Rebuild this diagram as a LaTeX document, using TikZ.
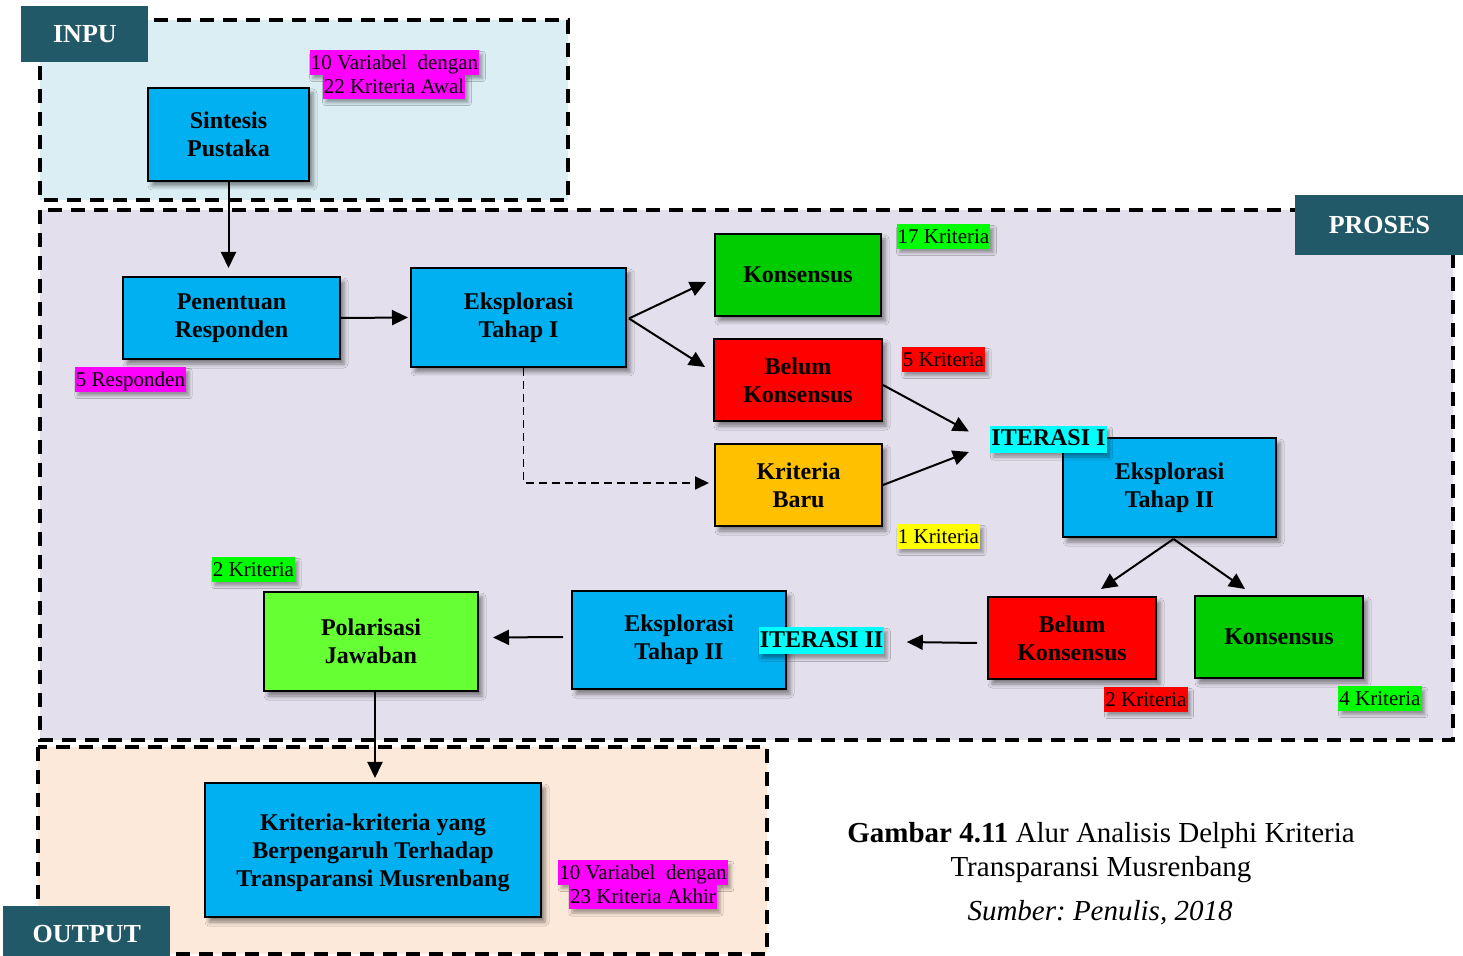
\documentclass[tikz,border=0pt]{standalone}
\usepackage{fontspec}
\setmainfont{Liberation Serif}
\usetikzlibrary{arrows.meta,calc,shadows.blur}
\frenchspacing

\definecolor{tabteal}{RGB}{33,89,104}
\definecolor{inputfill}{RGB}{218,238,243}
\definecolor{procfill}{RGB}{228,223,236}
\definecolor{outfill}{RGB}{253,233,217}
\definecolor{boxblue}{RGB}{0,176,240}
\definecolor{boxgreen}{RGB}{0,204,0}
\definecolor{boxred}{RGB}{255,0,0}
\definecolor{boxorange}{RGB}{255,192,0}
\definecolor{boxlime}{RGB}{102,255,51}
\definecolor{hlmagenta}{RGB}{255,0,255}
\definecolor{hlgreen}{RGB}{0,255,0}
\definecolor{hlred}{RGB}{255,0,0}
\definecolor{hlyellow}{RGB}{255,255,0}
\definecolor{hlcyan}{RGB}{0,255,255}

\begin{document}
\begin{tikzpicture}[x=0.5pt,y=-0.5pt,
  region/.style={line width=2pt, dash pattern=on 7pt off 4.5pt},
  tab/.style={fill=tabteal, text=white, anchor=north west, inner sep=0,
    font=\fontsize{13}{15}\selectfont\bfseries},
  stepbox/.style={draw=black, line width=1pt, anchor=north west, inner sep=0,
    align=center, font=\fontsize{12}{14}\selectfont\bfseries,
    blur shadow={shadow xshift=2pt, shadow yshift=-2.5pt, shadow opacity=45, shadow blur radius=2pt}},
  tag/.style={inner xsep=0.6pt, inner ysep=0, text height=9.4pt, text depth=2.8pt,
    font=\fontsize{10.5}{12}\selectfont,
    blur shadow={shadow xshift=1.5pt, shadow yshift=-2pt, shadow opacity=35, shadow blur radius=1.5pt}},
  itertag/.style={fill=hlcyan, inner xsep=0.6pt, inner ysep=0, text height=10pt, text depth=3.5pt,
    font=\fontsize{12}{14}\selectfont\bfseries,
    blur shadow={shadow xshift=1.5pt, shadow yshift=-2pt, shadow opacity=35, shadow blur radius=1.5pt}},
  arr/.style={line width=1pt, -{Triangle[length=8pt,width=7.5pt]}},
  dasharr/.style={line width=0.9pt, dash pattern=on 4pt off 2.5pt, -{Triangle[length=7pt,width=6.5pt]}}
]
\useasboundingbox (0,0) rectangle (1463,956);

% background areas
\fill[inputfill] (40,20) rectangle (568,200);
\fill[procfill] (40,210) rectangle (1453,740);
\fill[outfill] (38,747) rectangle (767,954);
\draw[region] (40,20) rectangle (568,200);
\draw[region] (40,210) rectangle (1453,740);
\draw[region] (38,747) rectangle (767,954);

% section tabs
\node[tab, minimum width=63.5pt, minimum height=28pt] (tin) at (21,6) {INPU};
\node[tab, minimum width=84pt, minimum height=30pt] (tpr) at (1295,195) {PROSES};
\node[tab, minimum width=83.5pt, minimum height=28pt] (tout) at (3,906) {OUTPUT};

% process boxes
\node[stepbox, fill=boxblue, minimum width=80.5pt, minimum height=46.5pt] (sp) at (147,87) {Sintesis\\Pustaka};
\node[stepbox, fill=boxblue, minimum width=108.5pt, minimum height=41pt] (pr) at (122,276) {Penentuan\\Responden};
\node[stepbox, fill=boxblue, minimum width=107.5pt, minimum height=49.5pt] (e1) at (410,267) {Eksplorasi\\Tahap I};
\node[stepbox, fill=boxgreen, minimum width=83pt, minimum height=41pt] (k1) at (714,233) {Konsensus};
\node[stepbox, fill=boxred, minimum width=84pt, minimum height=41pt] (b1) at (713,338) {Belum\\Konsensus};
\node[stepbox, fill=boxorange, minimum width=83.5pt, minimum height=41pt] (kb) at (714,443) {Kriteria\\Baru};
\node[stepbox, fill=boxblue, minimum width=106.5pt, minimum height=49.5pt] (e2) at (1062,437) {Eksplorasi\\Tahap II};
\node[stepbox, fill=boxred, minimum width=84pt, minimum height=41pt] (b2) at (987,596) {Belum\\Konsensus};
\node[stepbox, fill=boxgreen, minimum width=84pt, minimum height=41pt] (k2) at (1194,595) {Konsensus};
\node[stepbox, fill=boxblue, minimum width=107pt, minimum height=49pt] (e3) at (571,590) {Eksplorasi\\Tahap II};
\node[stepbox, fill=boxlime, minimum width=107pt, minimum height=49.5pt] (pj) at (263,591) {Polarisasi\\Jawaban};
\node[stepbox, fill=boxblue, minimum width=168pt, minimum height=67pt] (kk) at (204,782) {\rule{0pt}{11pt}Kriteria-kriteria yang\\Berpengaruh Terhadap\\Transparansi Musrenbang};

% highlighted notes
\node[tag, fill=hlmagenta] (va1) at (394.5,62.5) {10 Variabel\ \ dengan};
\node[tag, fill=hlmagenta] (va2) at (394,86.5) {22 Kriteria Awal};
\node[tag, fill=hlmagenta] (nr) at (130.5,379.5) {5 Responden};
\node[tag, fill=hlgreen] (n17) at (943.5,236.5) {17 Kriteria};
\node[tag, fill=hlred] (n5) at (943.5,359.5) {5 Kriteria};
\node[tag, fill=hlyellow] (n1) at (938.5,536.5) {1 Kriteria};
\node[tag, fill=hlred] (n2r) at (1146,699.5) {2 Kriteria};
\node[tag, fill=hlgreen] (n4) at (1380,698.5) {4 Kriteria};
\node[tag, fill=hlgreen] (n2g) at (253.5,569.5) {2 Kriteria};
\node[tag, fill=hlmagenta] (vb1) at (643,872.5) {10 Variabel\ \ dengan};
\node[tag, fill=hlmagenta] (vb2) at (643,897) {23 Kriteria Akhir};
\node[itertag] (it1) at (1048.5,439.5) {ITERASI I};
\node[itertag] (it2) at (821.5,641) {ITERASI II};

% connectors
\draw[arr, shorten >=4pt] (sp.south) -- (sp.south |- pr.north);
\draw[arr, shorten >=1pt] (pr.east) -- (e1.west);
\draw[arr] ($(e1.east)+(2,1)$) -- ($(k1.west)+(-8,7)$);
\draw[arr] ($(e1.east)+(2,1)$) -- ($(b1.west)+(-8,-13)$);
\draw[dasharr] ($(e1.south)+(5,0)$) |- ($(kb.west)+(-5,-2)$);
\draw[arr] ($(b1.east)+(0,5)$) -- ($(it1.west)+(-21,-8)$);
\draw[arr] (kb.east) -- ($(it1.west)+(-21,12.5)$);
\draw[arr] ($(e2.south)+(4,1)$) -- ($(b2.north)+(29,-7)$);
\draw[arr] ($(e2.south)+(4,1)$) -- ($(k2.north)+(-34,-6)$);
\draw[arr] ($(b2.west)+(-10,5)$) -- ($(it2.east)+(22,1)$);
\draw[arr] ($(e3.west)+(-8,-3)$) -- ($(pj.east)+(14,-4)$);
\draw[arr] ($(pj.south)+(4,0)$) -- ($(kk.north)+(2,-4)$);

% caption
\node[align=center, font=\fontsize{14.5}{17}\selectfont] (cap) at (1101,853)
  {\textbf{Gambar 4.11} Alur Analisis Delphi Kriteria\\Transparansi Musrenbang};
\node[font=\fontsize{14.5}{17}\selectfont\itshape] (src) at (1100,913) {Sumber: Penulis, 2018};
\end{tikzpicture}
\end{document}
